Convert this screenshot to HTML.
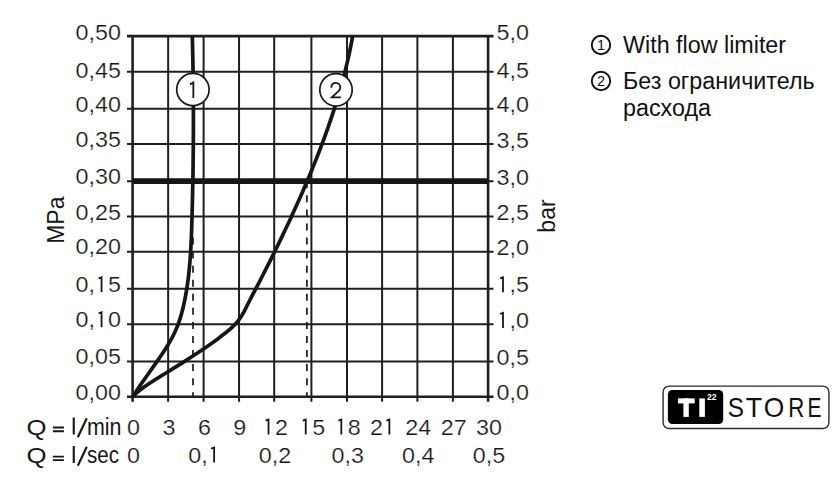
<!DOCTYPE html>
<html><head><meta charset="utf-8"><style>
html,body{margin:0;padding:0;background:#fff;}
body{width:840px;height:490px;position:relative;overflow:hidden;font-family:"Liberation Sans",sans-serif;}
svg.chart{position:absolute;left:0;top:0;}
.leg{position:absolute;left:590px;width:250px;height:60px;}
.leg .num{position:absolute;left:0;top:7px;}
.leg .t{position:absolute;left:33px;font-size:23.3px;line-height:27.3px;color:#111;white-space:nowrap;}
</style></head><body>
<svg class="chart" width="840" height="490" viewBox="0 0 840 490">
<g stroke="#1f1f1f" fill="none">
<line x1="132.60" y1="34.90" x2="132.60" y2="401.80" stroke-width="2.6"/><line x1="168.15" y1="36.10" x2="168.15" y2="401.80" stroke-width="2.0"/><line x1="203.60" y1="36.10" x2="203.60" y2="401.80" stroke-width="2.0"/><line x1="239.05" y1="36.10" x2="239.05" y2="401.80" stroke-width="2.0"/><line x1="274.20" y1="36.10" x2="274.20" y2="401.80" stroke-width="2.0"/><line x1="311.40" y1="36.10" x2="311.40" y2="401.80" stroke-width="2.0"/><line x1="347.00" y1="36.10" x2="347.00" y2="401.80" stroke-width="2.0"/><line x1="382.10" y1="36.10" x2="382.10" y2="401.80" stroke-width="2.0"/><line x1="417.40" y1="36.10" x2="417.40" y2="401.80" stroke-width="2.0"/><line x1="452.90" y1="36.10" x2="452.90" y2="401.80" stroke-width="2.0"/><line x1="488.10" y1="34.90" x2="488.10" y2="401.80" stroke-width="2.6"/><line x1="127" y1="396.75" x2="493.5" y2="396.75" stroke-width="2.6"/><line x1="127" y1="361.40" x2="493.5" y2="361.40" stroke-width="2.0"/><line x1="127" y1="324.20" x2="493.5" y2="324.20" stroke-width="2.0"/><line x1="127" y1="288.80" x2="493.5" y2="288.80" stroke-width="2.0"/><line x1="127" y1="251.70" x2="493.5" y2="251.70" stroke-width="2.0"/><line x1="127" y1="216.40" x2="493.5" y2="216.40" stroke-width="2.0"/><line x1="127" y1="181.15" x2="493.5" y2="181.15" stroke-width="2.0"/><line x1="127" y1="144.00" x2="493.5" y2="144.00" stroke-width="2.0"/><line x1="127" y1="108.65" x2="493.5" y2="108.65" stroke-width="2.0"/><line x1="127" y1="71.65" x2="493.5" y2="71.65" stroke-width="2.0"/><line x1="127" y1="36.10" x2="493.5" y2="36.10" stroke-width="2.6"/>
</g>
<line x1="133" y1="181.15" x2="488" y2="181.15" stroke="#161616" stroke-width="5.6"/>
<g stroke="#1a1a1a" stroke-width="1.7" fill="none">
<line x1="193.0" y1="392.20" x2="193.0" y2="396.70"/><line x1="306.9" y1="392.20" x2="306.9" y2="396.70"/><line x1="193.0" y1="378.14" x2="193.0" y2="385.14"/><line x1="306.9" y1="378.14" x2="306.9" y2="385.14"/><line x1="193.0" y1="364.08" x2="193.0" y2="371.08"/><line x1="306.9" y1="364.08" x2="306.9" y2="371.08"/><line x1="193.0" y1="350.02" x2="193.0" y2="357.02"/><line x1="306.9" y1="350.02" x2="306.9" y2="357.02"/><line x1="193.0" y1="335.96" x2="193.0" y2="342.96"/><line x1="306.9" y1="335.96" x2="306.9" y2="342.96"/><line x1="193.0" y1="321.90" x2="193.0" y2="328.90"/><line x1="306.9" y1="321.90" x2="306.9" y2="328.90"/><line x1="193.0" y1="307.84" x2="193.0" y2="314.84"/><line x1="306.9" y1="307.84" x2="306.9" y2="314.84"/><line x1="193.0" y1="293.78" x2="193.0" y2="300.78"/><line x1="306.9" y1="293.78" x2="306.9" y2="300.78"/><line x1="193.0" y1="279.72" x2="193.0" y2="286.72"/><line x1="306.9" y1="279.72" x2="306.9" y2="286.72"/><line x1="193.0" y1="265.66" x2="193.0" y2="272.66"/><line x1="306.9" y1="265.66" x2="306.9" y2="272.66"/><line x1="193.0" y1="251.60" x2="193.0" y2="258.60"/><line x1="306.9" y1="251.60" x2="306.9" y2="258.60"/><line x1="193.0" y1="237.54" x2="193.0" y2="244.54"/><line x1="306.9" y1="237.54" x2="306.9" y2="244.54"/><line x1="306.9" y1="223.48" x2="306.9" y2="230.48"/><line x1="306.9" y1="209.42" x2="306.9" y2="216.42"/><line x1="306.9" y1="195.36" x2="306.9" y2="202.36"/><line x1="306.9" y1="181.30" x2="306.9" y2="188.30"/>
</g>
<g stroke="#161616" stroke-width="3.7" fill="none" stroke-linejoin="round" stroke-linecap="butt">
<path d="M132.75,396.70 L134.69,393.67 L136.68,390.64 L138.71,387.61 L140.78,384.58 L142.87,381.55 L144.99,378.52 L147.12,375.49 L149.26,372.46 L151.41,369.43 L153.55,366.40 L155.68,363.37 L157.79,360.34 L159.88,357.31 L161.94,354.28 L163.95,351.25 L165.90,348.22 L167.78,345.19 L169.58,342.16 L171.29,339.13 L172.90,336.09 L174.39,333.06 L175.77,330.03 L177.04,327.00 L178.21,323.97 L179.29,320.94 L180.28,317.91 L181.19,314.88 L182.03,311.85 L182.80,308.82 L183.52,305.79 L184.19,302.76 L184.81,299.73 L185.40,296.70 L185.95,293.67 L186.46,290.64 L186.95,287.61 L187.40,284.58 L187.82,281.55 L188.21,278.52 L188.58,275.49 L188.91,272.46 L189.23,269.43 L189.52,266.40 L189.78,263.37 L190.03,260.34 L190.26,257.31 L190.46,254.28 L190.65,251.25 L190.83,248.22 L190.99,245.19 L191.14,242.16 L191.27,239.13 L191.39,236.10 L191.51,233.07 L191.62,230.04 L191.71,227.01 L191.81,223.98 L191.90,220.95 L191.99,217.92 L192.07,214.88 L192.15,211.85 L192.23,208.82 L192.31,205.79 L192.38,202.76 L192.45,199.73 L192.52,196.70 L192.59,193.67 L192.65,190.64 L192.72,187.61 L192.77,184.58 L192.83,181.55 L192.88,178.52 L192.94,175.49 L192.98,172.46 L193.03,169.43 L193.07,166.40 L193.11,163.37 L193.15,160.34 L193.19,157.31 L193.22,154.28 L193.25,151.25 L193.28,148.22 L193.30,145.19 L193.32,142.16 L193.34,139.13 L193.36,136.10 L193.37,133.07 L193.38,130.04 L193.39,127.01 L193.40,123.98 L193.40,120.95 L193.40,117.92 L193.39,114.89 L193.39,111.86 L193.38,108.83 L193.37,105.80 L193.35,102.77 L193.34,99.74 L193.32,96.71 L193.29,93.67 L193.27,90.64 L193.24,87.61 L193.21,84.58 L193.17,81.55 L193.14,78.52 L193.10,75.49 L193.05,72.46 L193.01,69.43 L192.96,66.40 L192.90,63.37 L192.85,60.34 L192.79,57.31 L192.73,54.28 L192.67,51.25 L192.60,48.22 L192.53,45.19 L192.46,42.16 L192.38,39.13 L192.30,36.10"/>
<path d="M132.75,396.70 L135.85,393.67 L139.43,390.64 L143.40,387.61 L147.71,384.58 L152.27,381.55 L157.03,378.52 L161.90,375.49 L166.82,372.46 L171.73,369.43 L176.60,366.40 L181.43,363.37 L186.20,360.34 L190.90,357.31 L195.54,354.28 L200.10,351.25 L204.57,348.22 L208.95,345.19 L213.22,342.16 L217.38,339.13 L221.41,336.09 L225.31,333.06 L229.00,330.03 L232.41,327.00 L235.44,323.97 L238.04,320.94 L240.26,317.91 L242.19,314.88 L243.91,311.85 L245.48,308.82 L246.99,305.79 L248.51,302.76 L250.06,299.73 L251.63,296.70 L253.21,293.67 L254.80,290.64 L256.39,287.61 L257.97,284.58 L259.54,281.55 L261.11,278.52 L262.67,275.49 L264.22,272.46 L265.77,269.43 L267.30,266.40 L268.83,263.37 L270.36,260.34 L271.87,257.31 L273.38,254.28 L274.88,251.25 L276.37,248.22 L277.85,245.19 L279.33,242.16 L280.80,239.13 L282.26,236.10 L283.71,233.07 L285.15,230.04 L286.58,227.01 L288.01,223.98 L289.42,220.95 L290.83,217.92 L292.23,214.88 L293.61,211.85 L294.99,208.82 L296.36,205.79 L297.73,202.76 L299.08,199.73 L300.42,196.70 L301.75,193.67 L303.07,190.64 L304.39,187.61 L305.69,184.58 L306.98,181.55 L308.26,178.52 L309.53,175.49 L310.79,172.46 L312.03,169.43 L313.27,166.40 L314.49,163.37 L315.70,160.34 L316.90,157.31 L318.09,154.28 L319.27,151.25 L320.43,148.22 L321.58,145.19 L322.71,142.16 L323.84,139.13 L324.95,136.10 L326.04,133.07 L327.12,130.04 L328.19,127.01 L329.24,123.98 L330.28,120.95 L331.31,117.92 L332.32,114.89 L333.31,111.86 L334.29,108.83 L335.25,105.80 L336.20,102.77 L337.13,99.74 L338.05,96.71 L338.95,93.67 L339.83,90.64 L340.70,87.61 L341.55,84.58 L342.38,81.55 L343.20,78.52 L344.00,75.49 L344.78,72.46 L345.54,69.43 L346.28,66.40 L347.01,63.37 L347.72,60.34 L348.41,57.31 L349.08,54.28 L349.73,51.25 L350.36,48.22 L350.97,45.19 L351.57,42.16 L352.14,39.13 L352.69,36.10"/>
</g>
<g stroke="#161616" stroke-width="1.7" fill="#fff">
<circle cx="192.9" cy="89.5" r="16.2"/>
<circle cx="336" cy="89.8" r="16.2"/>
</g>
<g stroke="#161616" stroke-width="1.8" fill="none" stroke-linejoin="miter">
<path d="M190.0,84.4 L193.35,82.5 L193.35,98.1"/>
<path d="M331.3,87.8 C331.4,84.6 333.4,82.8 335.9,82.8 C338.4,82.8 340.3,84.7 340.3,87.3 C340.3,88.9 339.5,90.1 338.5,91.2 L331.8,97.3 L340.9,97.3"/>
</g>
<g font-family="Liberation Sans, sans-serif" font-size="23" fill="#161616">


<g font-size="21.8" stroke="#fff" stroke-width="0.22">
<text transform="translate(121.00,400.30) scale(1.07,1)" text-anchor="end">0,00</text><text transform="translate(121.00,364.40) scale(1.07,1)" text-anchor="end">0,05</text><text transform="translate(121.00,327.30) scale(1.07,1)" text-anchor="end">0, 0</text><text transform="translate(121.00,292.30) scale(1.07,1)" text-anchor="end">0, 5</text><text transform="translate(121.00,254.40) scale(1.07,1)" text-anchor="end">0,20</text><text transform="translate(121.00,220.10) scale(1.07,1)" text-anchor="end">0,25</text><text transform="translate(121.00,183.70) scale(1.07,1)" text-anchor="end">0,30</text><text transform="translate(121.00,147.30) scale(1.07,1)" text-anchor="end">0,35</text><text transform="translate(121.00,112.30) scale(1.07,1)" text-anchor="end">0,40</text><text transform="translate(121.00,78.00) scale(1.07,1)" text-anchor="end">0,45</text><text transform="translate(121.00,39.80) scale(1.07,1)" text-anchor="end">0,50</text>
<text transform="translate(496.50,400.30) scale(1.07,1)">0,0</text><text transform="translate(496.50,364.60) scale(1.07,1)">0,5</text><text transform="translate(496.50,327.90) scale(1.07,1)"> ,0</text><text transform="translate(496.50,292.30) scale(1.07,1)"> ,5</text><text transform="translate(496.50,255.20) scale(1.07,1)">2,0</text><text transform="translate(496.50,220.30) scale(1.07,1)">2,5</text><text transform="translate(496.50,184.60) scale(1.07,1)">3,0</text><text transform="translate(496.50,147.60) scale(1.07,1)">3,5</text><text transform="translate(496.50,112.30) scale(1.07,1)">4,0</text><text transform="translate(496.50,78.00) scale(1.07,1)">4,5</text><text transform="translate(496.50,40.10) scale(1.07,1)">5,0</text>
<text transform="translate(133.40,434.60) scale(1.07,1)" text-anchor="middle">0</text><text transform="translate(168.95,434.60) scale(1.07,1)" text-anchor="middle">3</text><text transform="translate(204.40,434.60) scale(1.07,1)" text-anchor="middle">6</text><text transform="translate(239.85,434.60) scale(1.07,1)" text-anchor="middle">9</text><text transform="translate(275.00,434.60) scale(1.07,1)" text-anchor="middle"> 2</text><text transform="translate(312.20,434.60) scale(1.07,1)" text-anchor="middle"> 5</text><text transform="translate(347.80,434.60) scale(1.07,1)" text-anchor="middle"> 8</text><text transform="translate(382.90,434.60) scale(1.07,1)" text-anchor="middle">2 </text><text transform="translate(418.20,434.60) scale(1.07,1)" text-anchor="middle">24</text><text transform="translate(453.70,434.60) scale(1.07,1)" text-anchor="middle">27</text><text transform="translate(488.90,434.60) scale(1.07,1)" text-anchor="middle">30</text>
<text transform="translate(133.40,462.60) scale(1.07,1)" text-anchor="middle">0</text><text transform="translate(204.40,462.60) scale(1.07,1)" text-anchor="middle">0, </text><text transform="translate(275.00,462.60) scale(1.07,1)" text-anchor="middle">0,2</text><text transform="translate(347.80,462.60) scale(1.07,1)" text-anchor="middle">0,3</text><text transform="translate(418.20,462.60) scale(1.07,1)" text-anchor="middle">0,4</text><text transform="translate(488.90,462.60) scale(1.07,1)" text-anchor="middle">0,5</text>
</g>
<path d="M98.65,313.40L101.55,312.30L101.55,327.30 M500.08,314.00L502.98,312.90L502.98,327.90 M98.65,278.40L101.55,277.30L101.55,292.30 M500.08,278.40L502.98,277.30L502.98,292.30 M265.62,420.70L268.52,419.60L268.52,434.60 M302.82,420.70L305.72,419.60L305.72,434.60 M338.42,420.70L341.32,419.60L341.32,434.60 M386.48,420.70L389.38,419.60L389.38,434.60 M211.23,448.70L214.13,447.60L214.13,462.60" stroke="#161616" stroke-width="1.8" fill="none" stroke-linejoin="miter"/>
<text x="26.5" y="434.6" transform="translate(26.5,0) scale(1.12,1) translate(-26.5,0)">Q</text><text x="87" y="434.6" textLength="34.5" lengthAdjust="spacingAndGlyphs">min</text>
<text x="26.5" y="463.3" transform="translate(26.5,0) scale(1.12,1) translate(-26.5,0)">Q</text><text x="87" y="463.3" textLength="32" lengthAdjust="spacingAndGlyphs">sec</text>
<g stroke="#161616" fill="none">
<path d="M52.9,427.5H63.9M52.9,431.2H63.9" stroke-width="1.9"/>
<path d="M52.9,456.6H63.9M52.9,460.1H63.9" stroke-width="1.9"/>
<path d="M73.75,417.6V434.6M73.75,446V463" stroke-width="2.1"/>
<path d="M86.8,418.3L77.8,437.3M86.8,446.7L77.8,465.7" stroke-width="2.1"/>
</g>
<text transform="translate(63.5,220.2) rotate(-90)" text-anchor="middle">MPa</text>
<text transform="translate(554.5,216) rotate(-90)" text-anchor="middle">bar</text>
</g>
</svg>

<div class="leg" style="top:27px">
 <svg class="num" width="22" height="22" viewBox="0 0 22 22"><circle cx="11" cy="11" r="9.2" fill="none" stroke="#111" stroke-width="1.9"/><text x="11" y="16.3" text-anchor="middle" font-family="Liberation Sans, sans-serif" font-size="14.5" fill="#111">1</text></svg>
 <span class="t" style="top:5px">With flow limiter</span>
</div>
<div class="leg" style="top:63px">
 <svg class="num" width="22" height="22" viewBox="0 0 22 22"><circle cx="11" cy="11" r="9.2" fill="none" stroke="#111" stroke-width="1.9"/><text x="11" y="16.3" text-anchor="middle" font-family="Liberation Sans, sans-serif" font-size="14.5" fill="#111">2</text></svg>
 <span class="t" style="top:4.6px;line-height:27.6px">Без ограничитель<br>расхода</span>
</div>


<svg class="logo" width="840" height="490" viewBox="0 0 840 490" style="position:absolute;left:0;top:0">
<rect x="663.1" y="386.1" width="165.8" height="42.4" rx="6" fill="#fff" stroke="#2a2a2a" stroke-width="1.4"/>
<rect x="667.9" y="389.9" width="55.3" height="34.2" rx="4.5" fill="#000"/>
<g fill="#fff">
<rect x="677.9" y="398.4" width="16.8" height="5.0"/>
<rect x="683.4" y="398.4" width="5.4" height="18.5"/>
<rect x="699.3" y="398.4" width="5.6" height="18.5"/>
</g>
<g font-family="Liberation Sans, sans-serif">
<text transform="translate(707.3,399.9) scale(1.05,1)" x="-0.3" y="0" font-size="8.2" font-weight="bold" fill="#fff">22</text>
<text transform="translate(728.90,416.80) scale(0.881,1)" x="-1.25" y="0" font-size="27.62" fill="#111">S</text><text transform="translate(746.30,416.80) scale(0.973,1)" x="-0.62" y="0" font-size="27.62" fill="#111">T</text><text transform="translate(764.90,416.80) scale(0.955,1)" x="-1.31" y="0" font-size="27.62" fill="#111">O</text><text transform="translate(790.00,416.80) scale(0.805,1)" x="-2.27" y="0" font-size="27.62" fill="#111">R</text><text transform="translate(809.30,416.80) scale(0.762,1)" x="-2.27" y="0" font-size="27.62" fill="#111">E</text>
</g>
</svg>

</body></html>
